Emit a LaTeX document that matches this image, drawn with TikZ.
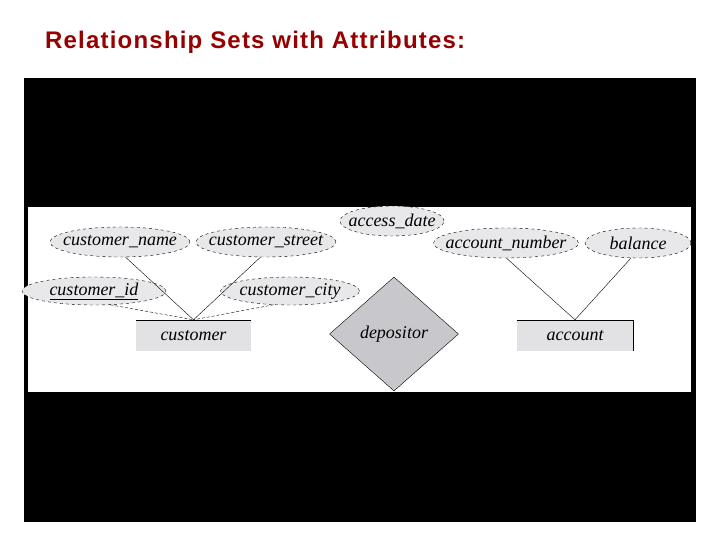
\documentclass[tikz,border=0pt]{standalone}
\usepackage{fontspec}
\setmainfont{Liberation Serif}
\newfontfamily\titlefont[LetterSpace=5]{Liberation Sans}
\usetikzlibrary{shapes.geometric}
\definecolor{titlered}{RGB}{150,0,0}
\definecolor{attrgray}{RGB}{232,232,234}
\definecolor{entgray}{RGB}{226,226,228}
\definecolor{relgray}{RGB}{200,200,204}
\newcommand{\zb}[1]{\makebox[0pt]{#1}}
\tikzset{
 attr/.style={ellipse,draw,dashed,fill=attrgray,inner sep=0pt,font=\fontsize{18}{18}\selectfont\itshape},
 ent/.style={rectangle,fill=entgray,inner sep=0pt,font=\fontsize{18}{18}\selectfont\itshape},
 rel/.style={diamond,draw,fill=relgray,inner sep=0pt,minimum width=129pt,minimum height=114pt,font=\fontsize{18}{18}\selectfont\itshape},
 link/.style={thin}
}
\begin{document}
\begin{tikzpicture}[x=1pt,y=-1pt]
\useasboundingbox (0,0) rectangle (720,540);
\node[anchor=base west,font=\titlefont\bfseries\fontsize{24}{24}\selectfont,text=titlered,inner sep=0pt] (title) at (45,49) {Relationship Sets with Attributes:};
\fill[black] (24,78) rectangle (696,522);
\fill[white] (28,207) rectangle (691,392);
\node[attr,minimum width=140pt,minimum height=30pt] (cn) at (120,242) {\zb{customer\_name}};
\node[attr,minimum width=140pt,minimum height=30pt] (cs) at (266,242) {\zb{customer\_street}};
\node[attr,minimum width=144pt,minimum height=28pt] (ci) at (94,291) {\zb{\underline{customer\_id}}};
\node[attr,minimum width=139pt,minimum height=28pt] (cc) at (290,291) {\zb{customer\_city}};
\node[attr,minimum width=104pt,minimum height=30pt] (ad) at (392,221) {\zb{access\_date}};
\node[attr,minimum width=145pt,minimum height=30pt] (an) at (506,243) {\zb{account\_number}};
\node[attr,minimum width=106pt,minimum height=30pt] (ba) at (638,243) {\zb{balance}};
\node[ent,minimum width=115pt,minimum height=31pt] (cu) at (193.5,335.5) {customer};
\draw (cu.north west) -- (cu.north east);
\node[ent,minimum width=116pt,minimum height=31pt] (ac) at (575,335.5) {account};
\draw (ac.north west) -- (ac.north east) -- (ac.south east);
\node[rel] (dep) at (394,334) {depositor};
\draw[link] (cn.-70) -- (cu.north);
\draw[link] (cs.-110) -- (cu.north);
\draw[link,densely dashed] (ci.-40) -- (cu.north);
\draw[link,densely dashed] (cc.-140) -- (cu.north);
\draw[link] (an.-88) -- (ac.north);
\draw[link] (ba.-115) -- (ac.north);
\end{tikzpicture}
\end{document}
